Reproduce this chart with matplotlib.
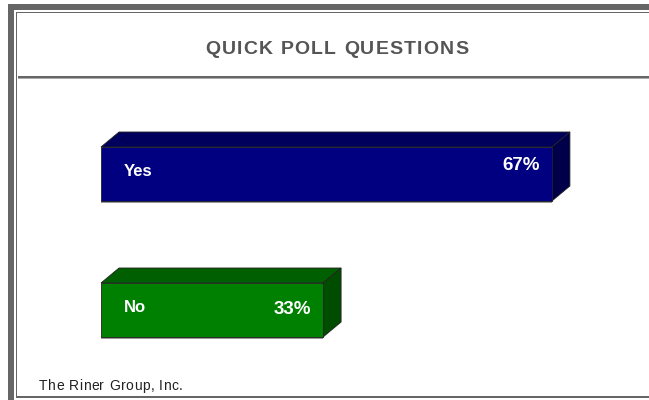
import matplotlib.pyplot as plt
from matplotlib.patches import Rectangle, Polygon
from matplotlib.font_manager import FontProperties

plt.rcParams['font.family'] = ['Liberation Sans', 'DejaVu Sans']

# data
answers = ['Yes', 'No']
shares = [67, 33]
front_colors = ['#000080', '#008000']
top_colors = ['#00005c', '#005f00']
side_colors = ['#00004a', '#004d00']
title = 'QUICK POLL QUESTIONS'
footer = 'The Riner Group, Inc.'

W, H = 649, 400
fig = plt.figure(figsize=(W / 100, H / 100), dpi=100)
renderer = fig.canvas.get_renderer()


def spaced_text(ax, x, y, s, spacing, center=False, size=10, weight='normal', color='k'):
    # draw text letter by letter with extra tracking (ax is in pixel units)
    fp = FontProperties(family=['Liberation Sans'], size=size, weight=weight)
    widths = [renderer.get_text_width_height_descent(c, fp, ismath=False)[0] for c in s]
    total = sum(widths) + spacing * (len(s) - 1)
    cx = x - total / 2 if center else x
    for c, w in zip(s, widths):
        ax.text(cx, y, c, ha='left', va='center', fontproperties=fp, color=color)
        cx += w + spacing


# background frame, drawn in pixel coordinates
bg = fig.add_axes([0, 0, 1, 1])
bg.set_xlim(0, W)
bg.set_ylim(H, 0)
bg.axis('off')
grey = '#666666'
bg.add_patch(Rectangle((8, 4), W, 6, color=grey, lw=0))          # outer top band
bg.add_patch(Rectangle((8, 4), 6, H, color=grey, lw=0))          # outer left band
bg.add_patch(Rectangle((16, 12), W, 1.2, color=grey, lw=0))      # inner top line
bg.add_patch(Rectangle((16, 12), 1.2, 385, color=grey, lw=0))    # inner left line
bg.add_patch(Rectangle((16, 395.5), W, 2, color=grey, lw=0))     # bottom line
bg.add_patch(Rectangle((18, 75.5), W, 3, color='#aaaaaa', lw=0))  # title divider
bg.add_patch(Rectangle((18, 76.3), W, 1.4, color='#666666', lw=0))
spaced_text(bg, 337, 50, title, 1.2, center=True, size=14, weight='bold', color='#555555')
spaced_text(bg, 39, 386, footer, 0.5, size=10, color='#222222')

# bar axes: x in percent, y in pixels
px_per_pct = 6.73
x0 = 101
ax = fig.add_axes([0, 0, 1, 1])
ax.set_xlim(-x0 / px_per_pct, (W - x0) / px_per_pct)
ax.set_ylim(H, 0)
ax.axis('off')

dx = 18 / px_per_pct   # depth offset in percent units
dy = -15               # depth offset in pixels
bar_h = 54
tops = [147, 283]
label_offsets = [-2, -2]
pct_offsets = [-9, -1]

for ans, v, fc, tc, sc, y, lo, po in zip(answers, shares, front_colors, top_colors,
                                         side_colors, tops, label_offsets, pct_offsets):
    yb = y + bar_h
    # shadow under the front face
    ax.add_patch(Rectangle((0, yb), v, 2, color='#999999', lw=0))
    # top face
    ax.add_patch(Polygon([(0, y), (dx, y + dy), (v + dx, y + dy), (v, y)],
                         closed=True, fc=tc, ec='#222222', lw=0.6))
    # side face
    ax.add_patch(Polygon([(v, y), (v + dx, y + dy), (v + dx, yb + dy), (v, yb)],
                         closed=True, fc=sc, ec='#222222', lw=0.6))
    # front face
    ax.add_patch(Rectangle((0, y), v, bar_h, fc=fc, ec='#222222', lw=0.6))
    ax.text(23 / px_per_pct, y + bar_h / 2 + lo, ans, ha='left', va='center',
            color='white', fontsize=12, fontweight='bold')
    ax.text(v - 12 / px_per_pct, y + bar_h / 2 + po, f'{v}%', ha='right', va='center',
            color='white', fontsize=13.5, fontweight='bold')

fig.savefig('out.png', dpi=100)
